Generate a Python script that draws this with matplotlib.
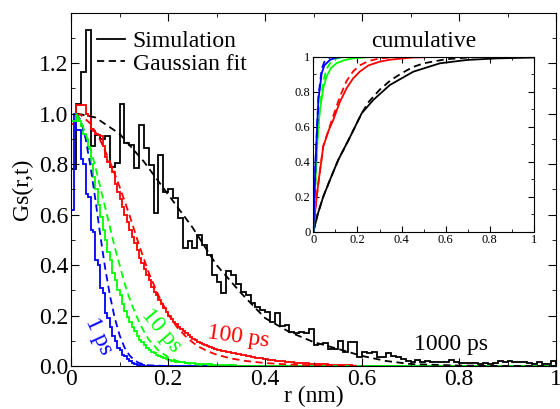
import numpy as np
import matplotlib
matplotlib.use('Agg')
import matplotlib.pyplot as plt
from matplotlib.ticker import MultipleLocator

plt.rcParams['font.family'] = ['Liberation Serif', 'DejaVu Serif']

# histograms, G_s(r,t) for t = 1000 ps (bins of 0.01 nm)
black_bin = 0.01
black_hist = [0.78, 1.04, 1.165, 1.33, 0.87, 0.915, 0.90, 0.91, 0.79, 0.805,
              1.04, 0.882, 0.875, 0.783, 0.954, 0.862, 0.796, 0.607, 0.836, 0.69,
              0.70, 0.665, 0.585, 0.469, 0.495, 0.469, 0.521, 0.479, 0.44, 0.36,
              0.334, 0.288, 0.378, 0.36, 0.325, 0.294, 0.281, 0.248, 0.235, 0.222,
              0.215, 0.176, 0.209, 0.16, 0.162, 0.136, 0.129, 0.133, 0.129, 0.146,
              0.082, 0.088, 0.09, 0.067, 0.067, 0.098, 0.054, 0.096, 0.096, 0.034,
              0.054, 0.05, 0.057, 0.034, 0.034, 0.05, 0.041, 0.034, 0.028, 0.021,
              0.015, 0.025, 0.017, 0.021, 0.015, 0.018, 0.018, 0.015, 0.025, 0.018,
              0.014, 0.012, 0.014, 0.012, 0.01, 0.012, 0.01, 0.012, 0.02, 0.018,
              0.02, 0.015, 0.016, 0.016, 0.012, 0.01, 0.018, 0.01, 0.01, 0.022]

# 1, 10, 100 ps (bins of 0.005 nm), last bin runs out to r = 1
color_bin = 0.005
blue_hist = [0.62, 1.0, 0.935, 0.935, 0.82, 0.80, 0.68, 0.67, 0.54, 0.53,
             0.42, 0.40, 0.31, 0.29, 0.21, 0.19, 0.155, 0.12, 0.10, 0.07,
             0.065, 0.045, 0.04, 0.028, 0.02, 0.012, 0.01, 0.006, 0.004, 0.003,
             0.002, 0.001, 0.001]
green_hist = [0.97, 0.97, 1.0, 0.97, 0.95, 0.92, 0.90, 0.86, 0.80, 0.75,
              0.70, 0.64, 0.59, 0.54, 0.50, 0.45, 0.42, 0.37, 0.34, 0.30,
              0.28, 0.245, 0.22, 0.195, 0.175, 0.155, 0.14, 0.12, 0.105, 0.095,
              0.082, 0.072, 0.064, 0.056, 0.05, 0.044, 0.04, 0.035, 0.031, 0.028,
              0.025, 0.022, 0.02, 0.018, 0.017, 0.016, 0.015, 0.014, 0.013, 0.012,
              0.011, 0.01, 0.01, 0.009, 0.008, 0.008, 0.007, 0.007, 0.006, 0.006,
              0.005, 0.005, 0.004, 0.004, 0.004, 0.003, 0.003, 0.003, 0.002, 0.002]
red_hist = [0.96, 0.96, 1.035, 1.035, 1.035, 1.035, 1.0, 0.99, 0.94, 0.93,
            0.92, 0.915, 0.91, 0.87, 0.83, 0.81, 0.79, 0.77, 0.72, 0.69,
            0.66, 0.63, 0.60, 0.57, 0.54, 0.51, 0.486, 0.46, 0.43, 0.41,
            0.385, 0.36, 0.34, 0.315, 0.295, 0.28, 0.26, 0.245, 0.23, 0.215,
            0.20, 0.185, 0.175, 0.165, 0.155, 0.145, 0.137, 0.13, 0.122, 0.115,
            0.108, 0.102, 0.097, 0.092, 0.087, 0.083, 0.079, 0.075, 0.071, 0.068,
            0.065, 0.062, 0.06, 0.058, 0.056, 0.054, 0.052, 0.05, 0.048, 0.046,
            0.044, 0.042, 0.04, 0.038, 0.036, 0.035, 0.033, 0.031, 0.03, 0.028,
            0.027, 0.025, 0.024, 0.023, 0.022, 0.021, 0.02, 0.019, 0.018, 0.017,
            0.016, 0.015, 0.014, 0.013, 0.013, 0.012, 0.011, 0.011, 0.01, 0.01,
            0.009, 0.009, 0.008, 0.008, 0.007, 0.007, 0.006, 0.006, 0.005, 0.005,
            0.004, 0.004, 0.004, 0.003, 0.003, 0.003, 0.002, 0.002, 0.002, 0.002]

# Gaussian fits, sampled
blue_fit_r = [0.01, 0.02, 0.03, 0.04, 0.05, 0.06, 0.07, 0.08, 0.09, 0.10, 0.11, 0.12, 0.13, 0.14, 0.16, 0.20]
blue_fit = [1.0, 0.974, 0.90, 0.79, 0.66, 0.52, 0.39, 0.28, 0.19, 0.122, 0.074, 0.043, 0.024, 0.012, 0.003, 0.0]
green_fit_r = [0.01, 0.02, 0.03, 0.04, 0.05, 0.06, 0.07, 0.08, 0.09, 0.10, 0.11, 0.12, 0.13,
               0.14, 0.15, 0.16, 0.18, 0.20, 0.22, 0.25, 0.30]
green_fit = [1.0, 0.97, 0.92, 0.86, 0.79, 0.71, 0.63, 0.55, 0.47, 0.40, 0.33, 0.27, 0.22,
             0.175, 0.138, 0.105, 0.062, 0.035, 0.019, 0.007, 0.001]
red_fit_r = [0.01, 0.02, 0.04, 0.06, 0.08, 0.10, 0.12, 0.14, 0.16, 0.18, 0.20, 0.22, 0.24,
             0.26, 0.28, 0.30, 0.33, 0.36, 0.40, 0.45, 0.50, 0.60]
red_fit = [1.0, 0.995, 0.96, 0.895, 0.81, 0.71, 0.60, 0.48, 0.37, 0.28, 0.205, 0.15, 0.11,
           0.08, 0.06, 0.045, 0.03, 0.02, 0.012, 0.006, 0.003, 0.001]
black_fit_r = [0.013, 0.05, 0.10, 0.15, 0.20, 0.25, 0.30, 0.35, 0.40, 0.45, 0.50, 0.55,
               0.60, 0.65, 0.70, 0.80, 0.90, 1.0]
black_fit = [1.0, 0.985, 0.92, 0.81, 0.68, 0.55, 0.40, 0.29, 0.19, 0.135, 0.095, 0.068,
             0.04, 0.02, 0.008, 0.002, 0.0005, 0.0]

# inset: cumulative
cum_black_r = [0, 0.02, 0.045, 0.08, 0.113, 0.166, 0.219, 0.272, 0.347, 0.453, 0.574, 0.695, 0.83, 1.0]
cum_black = [0, 0.10, 0.20, 0.31, 0.41, 0.54, 0.676, 0.753, 0.838, 0.914, 0.962, 0.981, 0.99, 0.995]
cum_black_fit_r = [0, 0.02, 0.045, 0.08, 0.113, 0.166, 0.219, 0.25, 0.30, 0.35, 0.40, 0.45, 0.50, 0.60, 0.70, 0.80, 1.0]
cum_black_fit = [0, 0.10, 0.20, 0.31, 0.41, 0.54, 0.676, 0.74, 0.81, 0.865, 0.905, 0.94, 0.962, 0.985, 0.995, 1.0, 1.0]
cum_red_r = [0, 0.01, 0.023, 0.045, 0.07, 0.09, 0.12, 0.151, 0.18, 0.21, 0.25, 0.30, 0.35, 0.45, 0.6, 1.0]
cum_red = [0, 0.14, 0.28, 0.486, 0.58, 0.638, 0.74, 0.82, 0.875, 0.914, 0.95, 0.971, 0.983, 0.995, 1.0, 1.0]
cum_red_fit_r = [0, 0.01, 0.023, 0.045, 0.09, 0.12, 0.15, 0.18, 0.21, 0.25, 0.30, 0.40, 1.0]
cum_red_fit = [0, 0.14, 0.28, 0.49, 0.66, 0.77, 0.86, 0.915, 0.95, 0.975, 0.99, 1.0, 1.0]
cum_green_r = [0, 0.01, 0.02, 0.03, 0.045, 0.06, 0.08, 0.105, 0.14, 0.18, 0.25, 0.35, 1.0]
cum_green = [0, 0.30, 0.55, 0.695, 0.82, 0.886, 0.935, 0.962, 0.98, 0.99, 0.997, 1.0, 1.0]
cum_green_fit_r = [0, 0.01, 0.02, 0.03, 0.045, 0.06, 0.08, 0.105, 0.14, 0.20, 1.0]
cum_green_fit = [0, 0.30, 0.56, 0.72, 0.86, 0.93, 0.97, 0.99, 0.998, 1.0, 1.0]
cum_blue_r = [0, 0.01, 0.023, 0.038, 0.05, 0.075, 0.10, 0.12, 0.20, 1.0]
cum_blue = [0, 0.40, 0.753, 0.905, 0.95, 0.981, 0.993, 0.997, 1.0, 1.0]
cum_blue_fit_r = [0, 0.01, 0.023, 0.038, 0.05, 0.075, 0.10, 1.0]
cum_blue_fit = [0, 0.40, 0.77, 0.93, 0.97, 0.995, 1.0, 1.0]

BLUE, GREEN, RED = '#0000ff', '#00ff00', '#ff0000'
lw = 1.3
dash = (0, (4, 2.5))


def color_edges(vals):
    e = np.arange(len(vals) + 1) * color_bin
    return np.append(e, 1.0), np.append(vals, 0.0)


fig = plt.figure(figsize=(5.6, 4.09), dpi=100)
ax = fig.add_axes([0.127, 0.105, 0.866, 0.864])

ax.stairs(black_hist, np.arange(len(black_hist) + 1) * black_bin, color='k', lw=lw, baseline=0)
ax.plot(black_fit_r, black_fit, color='k', lw=lw, ls=dash)
e, v = color_edges(red_hist)
ax.stairs(v, e, color=RED, lw=lw, baseline=0)
ax.plot(red_fit_r, red_fit, color=RED, lw=lw, ls=dash)
e, v = color_edges(blue_hist)
ax.stairs(v, e, color=BLUE, lw=lw, baseline=0)
ax.plot(blue_fit_r, blue_fit, color=BLUE, lw=lw, ls=dash)
e, v = color_edges(green_hist)
ax.stairs(v, e, color=GREEN, lw=lw, baseline=0)
ax.plot(green_fit_r, green_fit, color=GREEN, lw=lw, ls=dash)

ax.set_xlim(0, 1)
ax.set_ylim(0, 1.4)
ax.set_xticks([0, 0.2, 0.4, 0.6, 0.8, 1.0])
ax.set_xticklabels(['0', '0.2', '0.4', '0.6', '0.8', '1'])
ax.set_yticks([0, 0.2, 0.4, 0.6, 0.8, 1.0, 1.2])
ax.set_yticklabels(['0.0', '0.2', '0.4', '0.6', '0.8', '1.0', '1.2'])
ax.xaxis.set_minor_locator(MultipleLocator(0.1))
ax.yaxis.set_minor_locator(MultipleLocator(0.1))
ax.tick_params(which='both', direction='in', top=True, right=True, labelsize=17, pad=2)
ax.tick_params(which='major', length=6)
ax.tick_params(which='minor', length=3)
ax.set_xlabel('r (nm)', fontsize=17, labelpad=-3)
ax.set_ylabel('Gs(r,t)', fontsize=17, labelpad=4)

h1, = ax.plot([], [], color='k', lw=lw)
h2, = ax.plot([], [], color='k', lw=lw, ls=dash)
ax.legend([h1, h2], ['Simulation', 'Gaussian fit'], loc='upper left', bbox_to_anchor=(0.025, 0.99),
          frameon=False, fontsize=17, handlelength=1.15, handletextpad=0.35, labelspacing=0.05,
          borderaxespad=0.2)

ax.text(0.056, 0.118, '1 ps', color=BLUE, fontsize=17, rotation=-65, ha='center', va='center')
ax.text(0.185, 0.14, '10 ps', color=GREEN, fontsize=17, rotation=-50, ha='center', va='center')
ax.text(0.345, 0.115, '100 ps', color=RED, fontsize=17, rotation=-8, ha='center', va='center')
ax.text(0.783, 0.087, '1000 ps', color='k', fontsize=17, ha='center', va='center')

ins = fig.add_axes([0.5595, 0.4335, 0.394, 0.428])
ins.plot(cum_black_r, cum_black, color='k', lw=lw)
ins.plot(cum_black_fit_r, cum_black_fit, color='k', lw=lw, ls=dash)
ins.plot(cum_red_r, cum_red, color=RED, lw=lw)
ins.plot(cum_red_fit_r, cum_red_fit, color=RED, lw=lw, ls=dash)
ins.plot(cum_green_r, cum_green, color=GREEN, lw=lw)
ins.plot(cum_green_fit_r, cum_green_fit, color=GREEN, lw=lw, ls=dash)
ins.plot(cum_blue_r, cum_blue, color=BLUE, lw=lw)
ins.plot(cum_blue_fit_r, cum_blue_fit, color=BLUE, lw=lw, ls=dash)
ins.set_xlim(0, 1)
ins.set_ylim(0, 1)
ins.set_xticks([0, 0.2, 0.4, 0.6, 0.8, 1.0])
ins.set_xticklabels(['0', '0.2', '0.4', '0.6', '0.8', '1'])
ins.set_yticks([0, 0.2, 0.4, 0.6, 0.8, 1.0])
ins.set_yticklabels(['0', '0.2', '0.4', '0.6', '0.8', '1'])
ins.xaxis.set_minor_locator(MultipleLocator(0.1))
ins.yaxis.set_minor_locator(MultipleLocator(0.1))
ins.tick_params(which='both', direction='in', top=True, right=True, labelsize=9, pad=2)
ins.tick_params(which='major', length=4)
ins.tick_params(which='minor', length=2)
ins.set_title('cumulative', fontsize=17, pad=7)

fig.savefig('out.png', dpi=100)
